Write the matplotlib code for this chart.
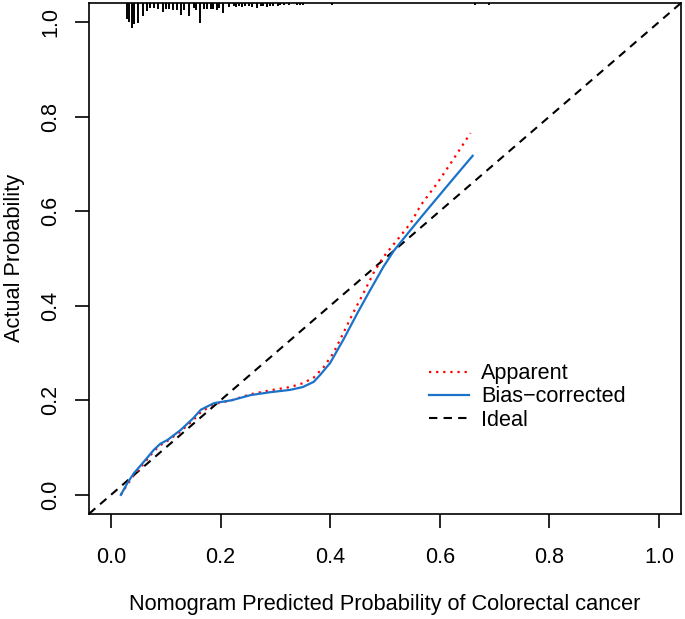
import numpy as np
import matplotlib
matplotlib.use("Agg")
from matplotlib import pyplot as plt

# Calibration curves
bias_x = [0.018, 0.03, 0.042, 0.06, 0.078, 0.09, 0.103, 0.127, 0.15, 0.164, 0.188,
          0.22, 0.255, 0.29, 0.327, 0.35, 0.37, 0.382, 0.40, 0.424, 0.45, 0.473,
          0.497, 0.516, 0.541, 0.565, 0.596, 0.63, 0.66]
bias_y = [0.0, 0.025, 0.046, 0.07, 0.095, 0.108, 0.116, 0.137, 0.162, 0.18, 0.194,
          0.2, 0.211, 0.217, 0.222, 0.228, 0.239, 0.254, 0.279, 0.328, 0.385, 0.433,
          0.482, 0.516, 0.552, 0.586, 0.629, 0.676, 0.717]

app_x = [0.018, 0.03, 0.042, 0.06, 0.078, 0.09, 0.103, 0.127, 0.15, 0.164, 0.188,
         0.22, 0.255, 0.29, 0.327, 0.35, 0.37, 0.388, 0.406, 0.424, 0.442, 0.461,
         0.479, 0.497, 0.523, 0.547, 0.565, 0.596, 0.625, 0.656]
app_y = [0.0, 0.022, 0.042, 0.066, 0.092, 0.105, 0.114, 0.134, 0.158, 0.175, 0.192,
         0.2, 0.213, 0.221, 0.228, 0.236, 0.248, 0.27, 0.30, 0.342, 0.385, 0.427,
         0.469, 0.503, 0.54, 0.575, 0.612, 0.66, 0.71, 0.765]

# Rug of predicted probabilities (position, relative frequency)
rug_x = [0.029, 0.033, 0.038, 0.042, 0.049, 0.058, 0.065, 0.071, 0.078, 0.085,
         0.095, 0.100, 0.105, 0.113, 0.120, 0.127, 0.133, 0.142, 0.151, 0.156,
         0.162, 0.169, 0.176, 0.182, 0.187, 0.193, 0.198, 0.205, 0.215, 0.224,
         0.229, 0.233, 0.240, 0.245, 0.251, 0.258, 0.267, 0.273, 0.278, 0.285,
         0.291, 0.296, 0.304, 0.309, 0.315, 0.324, 0.340, 0.345, 0.351, 0.404,
         0.664, 0.690]
rug_f = [16, 19, 25, 21, 20, 13, 8, 5, 5, 6,
         9, 6, 6, 7, 7, 12, 7, 13, 5, 7,
         20, 6, 6, 6, 6, 7, 5, 10, 4, 3,
         4, 3, 4, 3, 3, 4, 5, 3, 3, 4,
         3, 3, 3, 2, 2, 2, 2, 2, 2, 2,
         2, 2]

legend_labels = ["Apparent", "Bias\u2212corrected", "Ideal"]

plt.rcParams['font.family'] = ['Liberation Sans', 'DejaVu Sans']

fig = plt.figure(figsize=(6.85, 6.19), dpi=100)
ax = fig.add_axes([0.130, 0.170, 0.864, 0.825])
ax.set_xlim(-0.04, 1.04)
ax.set_ylim(-0.04, 1.04)

ax.axline((0, 0), (1, 1), color="black", linestyle=(0, (4, 3)), linewidth=1.5,
          label=legend_labels[2], zorder=2)
ax.plot(app_x, app_y, color="red", linestyle=(0, (1, 2.2)), linewidth=1.6,
        label=legend_labels[0], zorder=3)
ax.plot(bias_x, bias_y, color="#1a73c9", linewidth=1.6,
        label=legend_labels[1], zorder=4)

# rug hanging from the top of the box
rug_h = np.array(rug_f) / max(rug_f) * 0.053
ax.vlines(rug_x, 1.04 - rug_h, 1.04, color="black", linewidth=1.4)

h, l = ax.get_legend_handles_labels()
order = [1, 2, 0]
ax.legend([h[i] for i in order], [l[i] for i in order], loc="upper left",
          bbox_to_anchor=(0.542, 0.333), frameon=False, fontsize=15.6,
          handlelength=1.85, handletextpad=0.55, labelspacing=0.1)

ticks = [0.0, 0.2, 0.4, 0.6, 0.8, 1.0]
ax.set_xticks(ticks)
ax.set_yticks(ticks)
ax.set_xticklabels(["%.1f" % t for t in ticks], fontsize=15.5)
ax.set_yticklabels(["%.1f" % t for t in ticks], fontsize=15.5, rotation=90, va="center")
ax.tick_params(direction="out", length=10, width=1.2, pad=10)
ax.tick_params(axis="x", pad=14)
for s in ax.spines.values():
    s.set_linewidth(1.2)

ax.set_xlabel("Nomogram Predicted Probability of Colorectal cancer", fontsize=15.7, labelpad=19)
ax.set_ylabel("Actual Probability", fontsize=15.7, labelpad=11)

fig.savefig("out.png", dpi=100)
